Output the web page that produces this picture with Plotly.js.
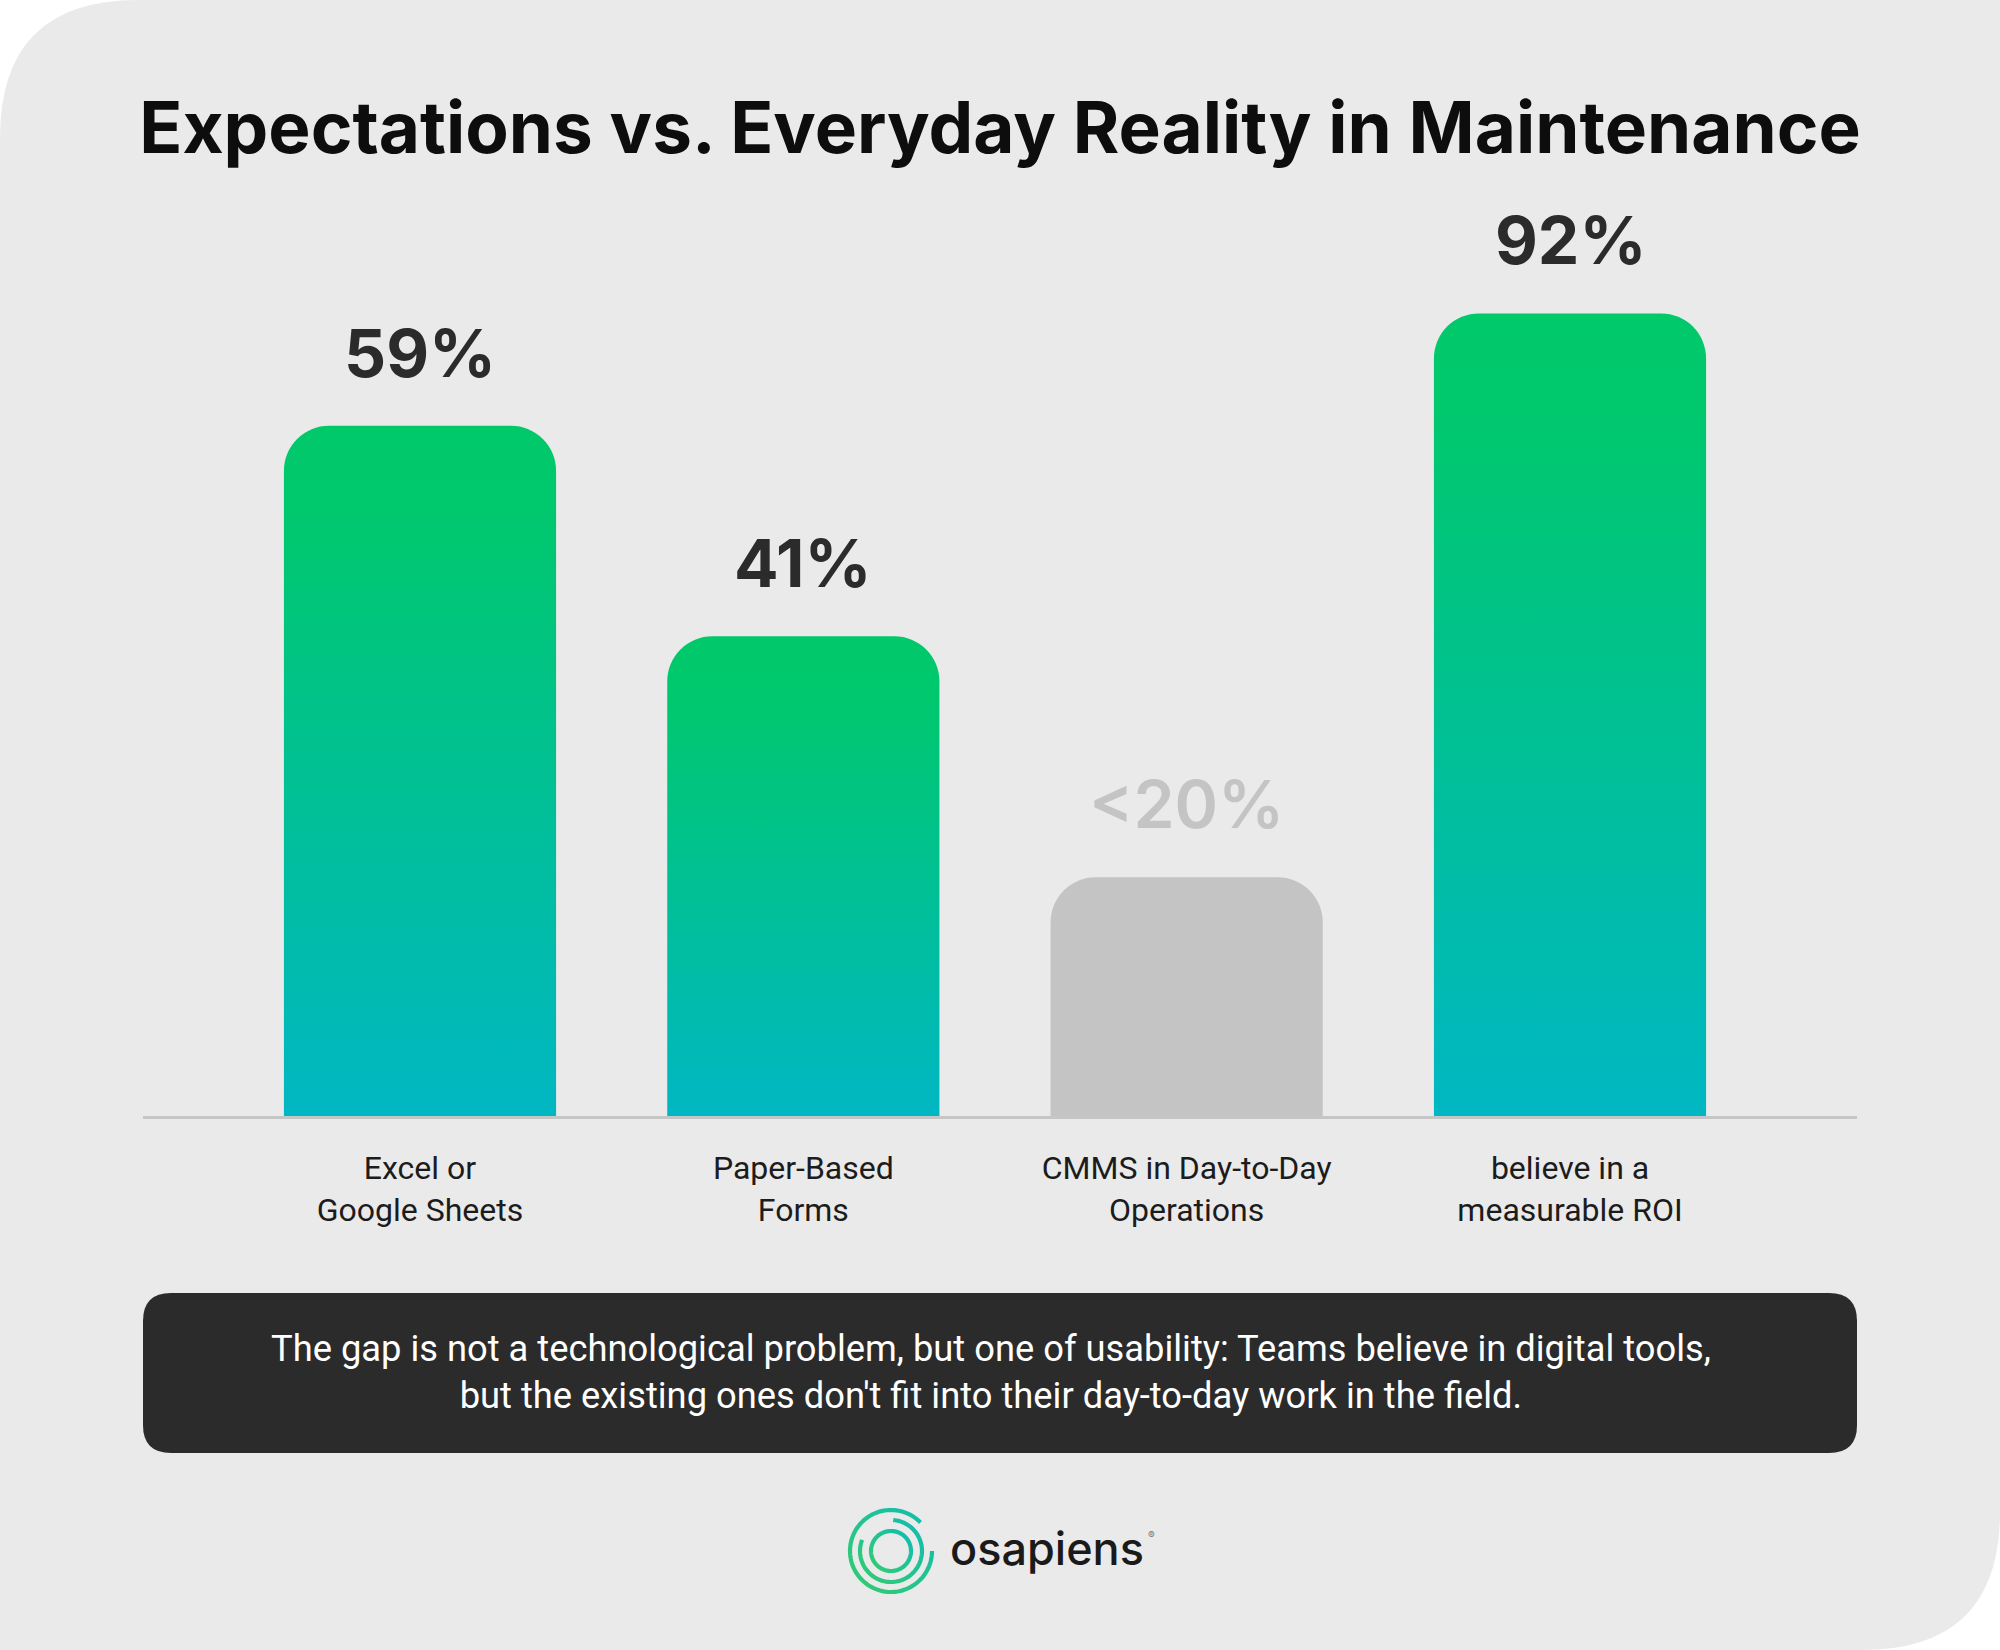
<!DOCTYPE html>
<html><head><meta charset="utf-8">
<script src="https://cdn.plot.ly/plotly-3.0.1.min.js"></script>
<style>html,body{margin:0;padding:0;background:#fff}#chart{width:2000px;height:1650px}</style>
</head><body><div id="chart"></div>
<script>
// ---------------- data ----------------
const categories = ['Excel or<br>Google Sheets', 'Paper-Based<br>Forms', 'CMMS in Day-to-Day<br>Operations', 'believe in a<br>measurable ROI'];
const valueLabels = ['59%', '41%', '&lt;20%', '92%'];
const reportedValues = [59, 41, 20, 92];
// bar lengths as drawn in the picture (the 92% bar is drawn shortened in the original)
const barHeights = [59, 41, 20.4, 68.6];
const highlighted = [true, true, false, true];
const titleText = 'Expectations vs. Everyday Reality in Maintenance';
const noteLines = ["The gap is not a technological problem, but one of usability: Teams believe in digital tools,",
                   "but the existing ones don't fit into their day-to-day work in the field."];
const brandName = 'osapiens';

// ---------------- geometry helpers ----------------
const W = 2000, H = 1650, L = 143, R = 1857, T = 180, B = 1116;
const px = x => (x - L) / (R - L);
const py = y => (B - y) / (B - T);
const colSpacing = 383.33;
const xRange = [-(420 - L) / colSpacing, 3 + (R - 1570) / colSpacing];

function roundRect(x0, y0, x1, y1, r, corners) {
  const [tl, tr, br, bl] = corners;
  const P = (x, y) => px(x) + ',' + py(y);
  let d = 'M ' + P(x0 + (tl ? r : 0), y0);
  d += ' L ' + P(x1 - (tr ? r : 0), y0);
  if (tr) d += ' Q ' + P(x1, y0) + ' ' + P(x1, y0 + r);
  d += ' L ' + P(x1, y1 - (br ? r : 0));
  if (br) d += ' Q ' + P(x1, y1) + ' ' + P(x1 - r, y1);
  d += ' L ' + P(x0 + (bl ? r : 0), y1);
  if (bl) d += ' Q ' + P(x0, y1) + ' ' + P(x0, y1 - r);
  d += ' L ' + P(x0, y0 + (tl ? r : 0));
  if (tl) d += ' Q ' + P(x0, y0) + ' ' + P(x0 + r, y0);
  return d + ' Z';
}
function arcPath(cx, cy, r, a0, a1) {
  const n = 90;
  let d = '';
  for (let i = 0; i <= n; i++) {
    const a = (a0 + (a1 - a0) * i / n) * Math.PI / 180;
    d += (i ? ' L ' : 'M ') + px(cx + r * Math.cos(a)) + ',' + py(cy - r * Math.sin(a));
  }
  return d;
}

const LOGO = 'rgb(34, 196, 138)';
const shapes = [
  {type: 'path', xref: 'paper', yref: 'paper', layer: 'below', line: {width: 0}, fillcolor: '#eaeaea',
   path: roundRect(0, 0, W, H, 138, [true, false, true, false])},
  {type: 'path', xref: 'paper', yref: 'paper', layer: 'above', line: {width: 0}, fillcolor: '#2b2b2b',
   path: roundRect(143, 1293, 1857, 1453, 28, [true, true, true, true])},
  {type: 'path', xref: 'paper', yref: 'paper', line: {width: 4.2, color: LOGO}, path: arcPath(891, 1551, 41, 44, 360)},
  {type: 'path', xref: 'paper', yref: 'paper', line: {width: 4.2, color: LOGO}, path: arcPath(891, 1551, 31, -201, 86)},
  {type: 'path', xref: 'paper', yref: 'paper', line: {width: 4.2, color: LOGO}, path: arcPath(891, 1551, 20, 0, 360)}
];

const annotations = categories.map((c, i) => ({
  x: c, y: barHeights[i], xref: 'x', yref: 'y', yanchor: 'bottom', yshift: 31,
  text: valueLabels[i], showarrow: false,
  font: {family: 'Inter', size: 66, weight: highlighted[i] ? 700 : 600, color: highlighted[i] ? '#2b2b2b' : '#c4c4c4'}
}));
annotations.push({
  x: px(991), y: py(1372), xref: 'paper', yref: 'paper', xanchor: 'center', yanchor: 'middle', align: 'center',
  text: noteLines.join('<br>'), showarrow: false,
  font: {family: 'Roboto', size: 36.3, color: '#ffffff'}
});
annotations.push({
  x: px(948), y: py(1548), xref: 'paper', yref: 'paper', xanchor: 'left', yanchor: 'middle',
  text: brandName, showarrow: false, font: {family: 'Inter', size: 45, weight: 500, color: '#1a1a1a'}
});
annotations.push({
  x: px(1146), y: py(1535), xref: 'paper', yref: 'paper', xanchor: 'left', yanchor: 'middle',
  text: '®', showarrow: false, font: {family: 'Inter', size: 10, color: '#777777'}
});

const trace = {
  type: 'bar', x: categories, y: barHeights, width: 0.71,
  marker: {color: highlighted.map(h => h ? '#00c36f' : '#c4c4c4'), cornerradius: 45, line: {width: 0}},
  hoverinfo: 'skip'
};

const layout = {
  width: W, height: H, margin: {l: L, r: W - R, t: T, b: H - B, pad: 0},
  paper_bgcolor: '#ffffff', plot_bgcolor: 'rgba(0,0,0,0)', showlegend: false,
  title: {text: titleText, x: 0.5, xanchor: 'center', y: 1 - 128 / H, yref: 'container', yanchor: 'middle',
          font: {family: 'Inter', size: 71, weight: 700, color: '#0d0d0d'}},
  xaxis: {type: 'category', range: xRange, showline: true, linecolor: '#c6c6c6', linewidth: 3,
          showgrid: false, zeroline: false, ticks: '', ticklabelstandoff: 22,
          tickfont: {family: 'Roboto', size: 32, color: '#1c1c1c'}, fixedrange: true},
  yaxis: {range: [0, 80], visible: false, showgrid: false, zeroline: false, fixedrange: true},
  shapes: shapes, annotations: annotations
};

Plotly.newPlot('chart', [trace], layout, {staticPlot: true, displayModeBar: false}).then(gd => {
  const svg = gd.querySelector('.main-svg');
  let defs = svg.querySelector('defs');
  const NS = 'http://www.w3.org/2000/svg';
  function grad(id, x1, y1, x2, y2, stops) {
    const g = document.createElementNS(NS, 'linearGradient');
    g.setAttribute('id', id);
    g.setAttribute('x1', x1); g.setAttribute('y1', y1); g.setAttribute('x2', x2); g.setAttribute('y2', y2);
    stops.forEach(([o, c]) => {
      const s = document.createElementNS(NS, 'stop');
      s.setAttribute('offset', o); s.setAttribute('stop-color', c);
      g.appendChild(s);
    });
    defs.appendChild(g);
  }
  grad('barGrad', 0, 0, 0, 1, [['0', '#00c96a'], ['0.12', '#00c86d'], ['1', '#00b7c3']]);
  grad('logoGrad', 1, 0, 0, 1, [['0', '#10bcb0'], ['1', '#33cc70']]);
  gd.querySelectorAll('.barlayer .point path').forEach((p, i) => {
    if (highlighted[i]) p.style.fill = 'url(#barGrad)';
  });
  gd.querySelectorAll('.shapelayer path').forEach(p => {
    if ((p.style.stroke || '').replace(/\s/g, '') === LOGO.replace(/\s/g, '')) p.style.stroke = 'url(#logoGrad)';
  });
});
</script>
</body></html>
